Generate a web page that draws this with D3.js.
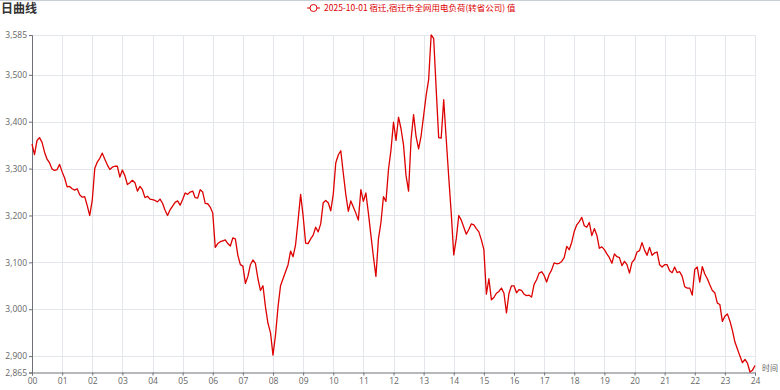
<!DOCTYPE html>
<html>
<head>
<meta charset="utf-8">
<script src="https://cdn.jsdelivr.net/npm/d3@7"></script>
<style>
  body { margin: 0; background: #fff; }
  svg { display: block; font-family: "Noto Sans CJK SC", "Noto Sans", sans-serif; }
</style>
</head>
<body>
<svg id="chart" width="780" height="390"></svg>
<script>
// load values every 5 minutes, one row per hour (00:00 .. 23:55) + 24:00
const load = [
  3352, 3330, 3360, 3366, 3356, 3335, 3320, 3312, 3299, 3296, 3298, 3309,
  3293, 3280, 3261, 3262, 3257, 3254, 3257, 3244, 3239, 3240, 3221, 3200,
  3232, 3300, 3314, 3322, 3333, 3320, 3308, 3298, 3303, 3305, 3305, 3282,
  3297, 3285, 3266, 3270, 3275, 3270, 3252, 3262, 3255, 3238, 3241, 3235,
  3234, 3232, 3229, 3235, 3226, 3211, 3200, 3212, 3220, 3228, 3231, 3222,
  3234, 3248, 3245, 3250, 3252, 3238, 3237, 3255, 3250, 3226, 3225, 3218,
  3205, 3132, 3140, 3144, 3146, 3148, 3140, 3135, 3152, 3150, 3115, 3095,
  3092, 3055, 3070, 3095, 3105, 3098, 3065, 3040, 3050, 3005, 2970, 2950,
  2902, 2945, 3005, 3050, 3065, 3080, 3095, 3124, 3112, 3138, 3190, 3245,
  3199, 3141, 3140, 3150, 3158, 3175, 3165, 3182, 3227, 3232, 3227, 3210,
  3245, 3312, 3329, 3338, 3290, 3245, 3209, 3231, 3218, 3205, 3190, 3255,
  3230, 3248, 3205, 3158, 3112, 3070, 3150, 3185, 3240, 3230, 3298, 3340,
  3399, 3360, 3410, 3385, 3350, 3285, 3252, 3362, 3415, 3368, 3342, 3370,
  3413, 3456, 3490, 3585, 3578, 3470, 3366, 3365, 3447, 3363, 3282, 3205,
  3116, 3150, 3200, 3190, 3175, 3160, 3170, 3182, 3180, 3172, 3165, 3148,
  3127, 3032, 3065, 3020, 3025, 3034, 3038, 3045, 3034, 2992, 3034, 3050,
  3050, 3035, 3042, 3040, 3032, 3029, 3030, 3026, 3053, 3063, 3077, 3080,
  3072, 3058, 3074, 3084, 3099, 3097, 3098, 3102, 3110, 3134, 3127, 3143,
  3166, 3180, 3187, 3196, 3178, 3175, 3185, 3157, 3172, 3158, 3130, 3133,
  3127, 3118, 3110, 3098, 3118, 3112, 3110, 3093, 3102, 3095, 3077, 3100,
  3106, 3122, 3125, 3142, 3126, 3115, 3132, 3115, 3120, 3122, 3095, 3090,
  3095, 3095, 3082, 3078, 3090, 3078, 3080, 3070, 3048, 3045, 3045, 3030,
  3085, 3090, 3058, 3091, 3075, 3065, 3052, 3040, 3035, 3013, 3010, 2974,
  2985, 2990, 2975, 2955, 2930, 2915, 2900, 2886, 2893, 2885, 2866, 2870,
  2880
];
const hourLabels = d3.range(25).map(h => String(h).padStart(2, "0"));
const yTicks = [2865, 2900, 3000, 3100, 3200, 3300, 3400, 3500, 3585];
const seriesName = "2025-10-01 宿迁,宿迁市全网用电负荷(转省公司) 值";

const svg = d3.select("#chart");
const margin = {top: 35, right: 25, bottom: 17.5, left: 32};
const width = 780, height = 390;

const x = d3.scaleLinear([0, 24 * 60], [margin.left, width - margin.right]);
const y = d3.scaleLinear([2865, 3585], [height - margin.bottom, margin.top]);

// top border
svg.append("line")
  .attr("x1", 0).attr("x2", width).attr("y1", 0.5).attr("y2", 0.5)
  .attr("stroke", "#c8ced6");

// title
svg.append("text")
  .attr("x", 1).attr("y", 13)
  .attr("font-size", 12).attr("font-weight", "bold").attr("fill", "#333")
  .text("日曲线");

// legend
const legend = svg.append("g").attr("transform", "translate(307,8)");
legend.append("line").attr("x1", 0).attr("x2", 13).attr("stroke", "#dd0000").attr("stroke-width", 1);
legend.append("circle").attr("cx", 6.5).attr("r", 3.5).attr("fill", "#fff").attr("stroke", "#dd0000");
legend.append("text")
  .attr("x", 17).attr("dy", "0.35em")
  .attr("font-size", 8.5).attr("fill", "#dd0000")
  .text(seriesName);

// grid
const grid = svg.append("g").attr("stroke", "#e3e7ec").attr("stroke-width", 1);
grid.selectAll(".gx").data(hourLabels.slice(1)).join("line")
  .attr("x1", (d, i) => Math.round(x((i + 1) * 60)) + 0.5)
  .attr("x2", (d, i) => Math.round(x((i + 1) * 60)) + 0.5)
  .attr("y1", y(3585)).attr("y2", y(2865));
grid.selectAll(".gy").data(yTicks.slice(1)).join("line")
  .attr("x1", margin.left).attr("x2", width - margin.right)
  .attr("y1", d => Math.round(y(d)) + 0.5)
  .attr("y2", d => Math.round(y(d)) + 0.5);

// axes
const xAxis = d3.axisBottom(x)
  .tickValues(d3.range(25).map(h => h * 60))
  .tickFormat((d, i) => hourLabels[i])
  .tickSize(3).tickPadding(2);
const yAxis = d3.axisLeft(y)
  .tickValues(yTicks)
  .tickFormat(d3.format(","))
  .tickSize(3).tickPadding(2);

const gx = svg.append("g")
  .attr("transform", `translate(0,${y(2865)})`)
  .call(xAxis);
const gy = svg.append("g")
  .attr("transform", `translate(${margin.left},0)`)
  .call(yAxis);

[gx, gy].forEach(g => {
  g.select(".domain").attr("stroke", "#6e7079");
  g.selectAll(".tick line").attr("stroke", "#6e7079");
  g.selectAll(".tick text").attr("fill", "#666").attr("font-size", 8.5)
    .attr("font-family", "'Open Sans', 'DejaVu Sans', sans-serif");
});

svg.append("text")
  .attr("x", 762).attr("y", y(2865) - 2)
  .attr("font-size", 8).attr("fill", "#666")
  .text("时间");

// line
const line = d3.line()
  .x((d, i) => x(i * 5))
  .y(d => y(d));

svg.append("path")
  .datum(load)
  .attr("fill", "none")
  .attr("stroke", "#dd0000")
  .attr("stroke-width", 1.3)
  .attr("stroke-linejoin", "round")
  .attr("d", line);
</script>
</body>
</html>
